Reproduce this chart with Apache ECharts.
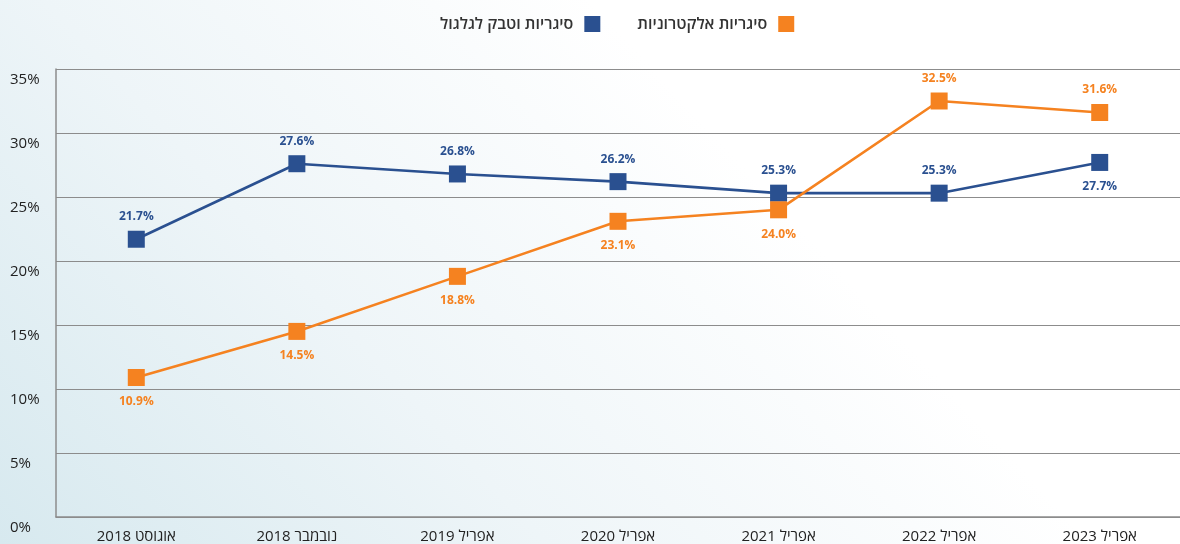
<!DOCTYPE html>
<html>
<head>
<meta charset="utf-8">
<script src="https://cdn.jsdelivr.net/npm/echarts@6/dist/echarts.min.js"></script>
<style>
  html, body { margin: 0; padding: 0; }
  #chart { width: 1180px; height: 544px; }
</style>
</head>
<body>
<div id="chart" dir="rtl"></div>
<script>
// data
var categories = ["אוגוסט 2018", "נובמבר 2018", "אפריל 2019", "אפריל 2020", "אפריל 2021", "אפריל 2022", "אפריל 2023"];
var tobaccoName = "סיגריות וטבק לגלגול";
var ecigName = "סיגריות אלקטרוניות";
var tobacco = [21.7, 27.6, 26.8, 26.2, 25.3, 25.3, 27.7];
var ecig = [10.9, 14.5, 18.8, 23.1, 24.0, 32.5, 31.6];
var yTicks = [0, 5, 10, 15, 20, 25, 30, 35];

// label above (true) or below (false) each point
var tobaccoAbove = [true, true, true, true, true, true, false];
var ecigAbove = [false, false, false, false, false, true, true];

var font = "'Open Sans', 'DejaVu Sans', sans-serif";
var blue = "#2a5090";
var orange = "#f58220";

function withLabels(values, above) {
    return values.map(function (v, i) {
        return {
            value: v,
            label: { position: above[i] ? "top" : "bottom", distance: above[i] ? 8 : 10 },
        };
    });
}

var myChart = echarts.init(document.getElementById("chart"));

var option = {
    backgroundColor: {
        type: "linear",
        x: 0, y: 1, x2: 0.5, y2: 0,
        colorStops: [
            { offset: 0, color: "#d7e9ef" },
            { offset: 0.5, color: "#eef5f8" },
            { offset: 1, color: "#ffffff" },
        ],
    },
    textStyle: { fontFamily: font },
    legend: {
        top: 11,
        left: 435,
        align: "right",
        itemWidth: 16,
        itemHeight: 16,
        itemGap: 37,
        icon: "rect",
        textStyle: { fontSize: 16, color: "#333", fontWeight: 600, fontFamily: font, padding: [0, 6, 0, 0] },
        data: [tobaccoName, ecigName],
    },
    grid: { left: 56, right: 0, top: 69, bottom: 27 },
    xAxis: {
        type: "category",
        data: categories,
        axisLine: { lineStyle: { color: "#8c8c8c", width: 1.5 } },
        axisTick: { inside: true, length: 10, lineStyle: { color: "#8c8c8c" } },
        axisLabel: { margin: 12, fontSize: 15, color: "#222", fontFamily: font },
    },
    yAxis: {
        type: "value",
        min: yTicks[0],
        max: yTicks[yTicks.length - 1],
        interval: 5,
        axisLine: { show: true, lineStyle: { color: "#8c8c8c", width: 1.5 } },
        splitLine: { lineStyle: { color: "#8c8c8c", width: 1.2 } },
        axisLabel: {
            align: "left",
            verticalAlign: "top",
            padding: [3, 0, 0, 0],
            margin: 46,
            fontSize: 15,
            color: "#222",
            fontFamily: font,
            formatter: function (v) { return v + "%"; },
        },
    },
    series: [
        {
            name: tobaccoName,
            type: "line",
            data: withLabels(tobacco, tobaccoAbove),
            symbol: "rect",
            symbolSize: 17,
            color: blue,
            lineStyle: { width: 2.6, color: blue },
            itemStyle: { color: blue },
            label: {
                show: true,
                fontSize: 12,
                fontWeight: "bold",
                color: blue,
                fontFamily: font,
                formatter: function (p) { return p.value.toFixed(1) + "%"; },
            },
            animation: false,
        },
        {
            name: ecigName,
            type: "line",
            data: withLabels(ecig, ecigAbove),
            symbol: "rect",
            symbolSize: 17,
            color: orange,
            lineStyle: { width: 2.6, color: orange },
            itemStyle: { color: orange },
            label: {
                show: true,
                fontSize: 12,
                fontWeight: "bold",
                color: orange,
                fontFamily: font,
                formatter: function (p) { return p.value.toFixed(1) + "%"; },
            },
            animation: false,
        },
    ],
};
myChart.setOption(option);
</script>
</body>
</html>
